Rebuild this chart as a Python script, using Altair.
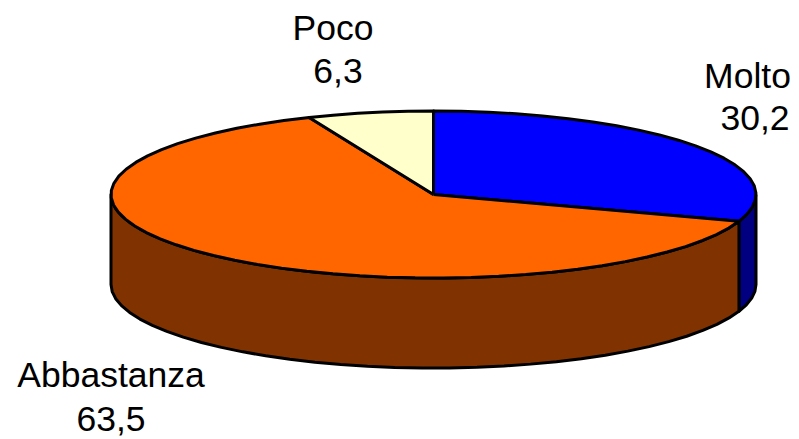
import math
import altair as alt
import pandas as pd

categories = ["Molto", "Abbastanza", "Poco"]
values = [30.2, 63.5, 6.3]
value_labels = ["30,2", "63,5", "6,3"]
top_colors = ["#0000ff", "#ff6600", "#ffffcc"]
side_colors = ["#000080", "#803300", "#808066"]

# layout, in page pixels
CX, CY, RX, RY, DEPTH = 433.5, 194.5, 322.5, 83.5, 90.0
M = 8
W, H = 783, 431
STEP = 5.0

def arc(a0, a1, depth=0.0):
    n = max(2, int(abs(a1 - a0) / STEP) + 1)
    pts = []
    for k in range(n + 1):
        a = math.radians(a0 + (a1 - a0) * k / n)
        pts.append((math.sin(a), math.cos(a) - depth / RY))
    return pts

xs = alt.Scale(domain=[(M - CX) / RX, (M + W - CX) / RX], nice=False, zero=False)
ys = alt.Scale(domain=[(CY - M - H) / RY, (CY - M) / RY], nice=False, zero=False)

def poly(pts, fill):
    df = pd.DataFrame({"u": [p[0] for p in pts] + [pts[0][0]],
                       "v": [p[1] for p in pts] + [pts[0][1]]})
    df["i"] = range(len(df))
    return alt.Chart(df).mark_line(fill=fill, stroke="black", strokeWidth=3,
                                   strokeJoin="round", clip=False).encode(
        x=alt.X("u:Q", scale=xs, axis=None),
        y=alt.Y("v:Q", scale=ys, axis=None),
        order="i:Q",
    )

layers = []
total = sum(values)
bounds = [0.0]
for v in values:
    bounds.append(bounds[-1] + 360.0 * v / total)

# front wall, only the part facing the viewer
for i, c in enumerate(categories):
    a0, a1 = max(bounds[i], 90.0), min(bounds[i + 1], 270.0)
    if a1 > a0:
        layers.append(poly(arc(a0, a1) + arc(a1, a0, DEPTH), side_colors[i]))

# top faces
for i, c in enumerate(categories):
    layers.append(poly([(0.0, 0.0)] + arc(bounds[i], bounds[i + 1]), top_colors[i]))

# labels: category over value
label_pos = {"Molto": (747.5, 77, 755, 119), "Abbastanza": (111, 376, 111, 420), "Poco": (333, 29, 338, 72)}
rows = []
for c, t in zip(categories, value_labels):
    x1, y1, x2, y2 = label_pos[c]
    rows.append({"t": c, "u": (x1 - CX) / RX, "v": (CY - y1) / RY})
    rows.append({"t": t, "u": (x2 - CX) / RX, "v": (CY - y2) / RY})
labels = alt.Chart(pd.DataFrame(rows)).mark_text(
    font="Liberation Sans", fontSize=35.5, color="black", align="center", baseline="middle"
).encode(
    x=alt.X("u:Q", scale=xs, axis=None),
    y=alt.Y("v:Q", scale=ys, axis=None),
    text="t:N",
)
layers.append(labels)

chart = alt.layer(*layers).properties(
    width=W, height=H, padding=0, autosize=alt.AutoSizeParams(type="none")
).configure_view(stroke=None)

chart.save("out.html", embed_options={"renderer": "svg", "actions": False})
